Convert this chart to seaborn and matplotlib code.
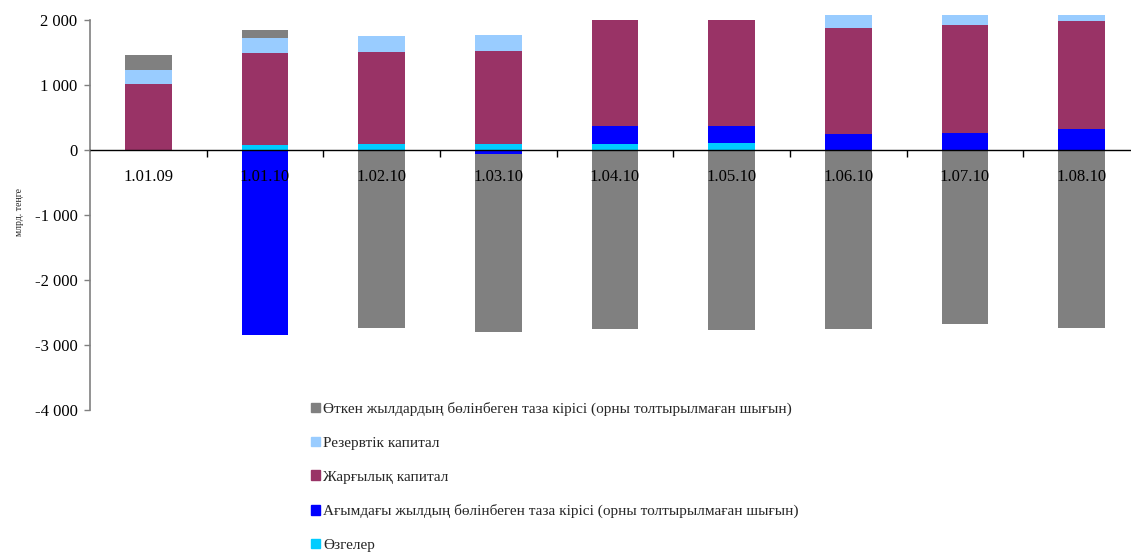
import numpy as np
import pandas as pd
import matplotlib
matplotlib.use("Agg")
import matplotlib.pyplot as plt
from matplotlib.ticker import FuncFormatter, FixedLocator
import seaborn as sns

# data (млрд. теңге)
dates = ["1.01.09", "1.01.10", "1.02.10", "1.03.10", "1.04.10",
         "1.05.10", "1.06.10", "1.07.10", "1.08.10"]
ozgeler = [-20, 77, 92, 92, 92, 108, 0, 0, 0]
current_year = [0, -2846, 0, -62, 277, 261, 246, 262, 323]
charter_cap = [1015, 1415, 1416, 1431, 1631, 1631, 1631, 1661, 1662]
reserve_cap = [215, 231, 246, 246, 0, 0, 200, 154, 92]
past_years = [231, 123, -2738, -2738, -2754, -2769, -2754, -2677, -2738]

labels = [
    "Өзгелер",
    "Ағымдағы жылдың бөлінбеген таза кірісі (орны толтырылмаған шығын)",
    "Жарғылық капитал",
    "Резервтік капитал",
    "Өткен жылдардың бөлінбеген таза кірісі (орны толтырылмаған шығын)",
]
colors = ["#00CCFF", "#0000FF", "#993366", "#99CCFF", "#808080"]
series = [ozgeler, current_year, charter_cap, reserve_cap, past_years]

sns.set_theme(style="white")
plt.rcParams["font.family"] = ["Liberation Serif", "DejaVu Serif"]

fig = plt.figure(figsize=(11.31, 5.55), dpi=100)
ax = fig.add_axes([90 / 1131, 1 - 410 / 555, 1050 / 1131, 395.2 / 555])

# stacked bars: positives and negatives stacked separately (Excel style)
vals = np.array(series, dtype=float)
pos = np.cumsum(np.clip(vals, 0, None), axis=0)
neg = np.cumsum(np.clip(vals, None, 0), axis=0)

# draw cumulative totals from the top layer down so lower layers cover upper ones
for i in range(len(series) - 1, -1, -1):
    for cum in (pos, neg):
        df = pd.DataFrame({"date": dates, "value": cum[i]})
        sns.barplot(data=df, x="date", y="value", order=dates, color=colors[i],
                    saturation=1, width=0.4, errorbar=None, linewidth=0, ax=ax)

ax.set_xlim(-0.5, len(dates) - 0.5)
ax.set_ylim(-4000, 2080)
ax.set_yticks([-4000, -3000, -2000, -1000, 0, 1000, 2000])
ax.yaxis.set_major_formatter(FuncFormatter(lambda v, p: f"{v:,.0f}".replace(",", " ")))
ax.set_ylabel("млрд. теңге", fontsize=7, labelpad=8)
ax.set_xlabel("")

ax.set_axisbelow(False)
sns.despine(ax=ax, top=True, right=True)
ax.spines["bottom"].set_position(("data", 0))
ax.spines["bottom"].set_color("black")
ax.spines["bottom"].set_linewidth(1)
ax.spines["left"].set_color("#808080")
ax.spines["left"].set_linewidth(1.2)
ax.spines["left"].set_bounds(-4000, 2000)

ax.tick_params(axis="y", which="major", left=True, length=4, width=1,
               color="#808080", pad=5, labelsize=12, labelcolor="black")
ax.tick_params(axis="x", which="major", bottom=False, length=0, pad=14,
               labelsize=12, labelcolor="black")
ax.xaxis.set_minor_locator(FixedLocator(np.arange(0.5, len(dates) - 0.5, 1)))
ax.tick_params(axis="x", which="minor", bottom=True, direction="out",
               length=5, width=1, color="black")

# legend in reverse stack order, below the plot
handles = [plt.Rectangle((0, 0), 1, 1, color=c) for c in colors]
fig.legend(handles[::-1], labels[::-1], loc="upper left",
           bbox_to_anchor=(311 / 1131, 1 - 402 / 555), frameon=False,
           fontsize=11, handlelength=0.6, handleheight=0.6,
           handletextpad=0.2, labelspacing=1.34, borderpad=0, borderaxespad=0)

plt.savefig("out.png", dpi=100)
